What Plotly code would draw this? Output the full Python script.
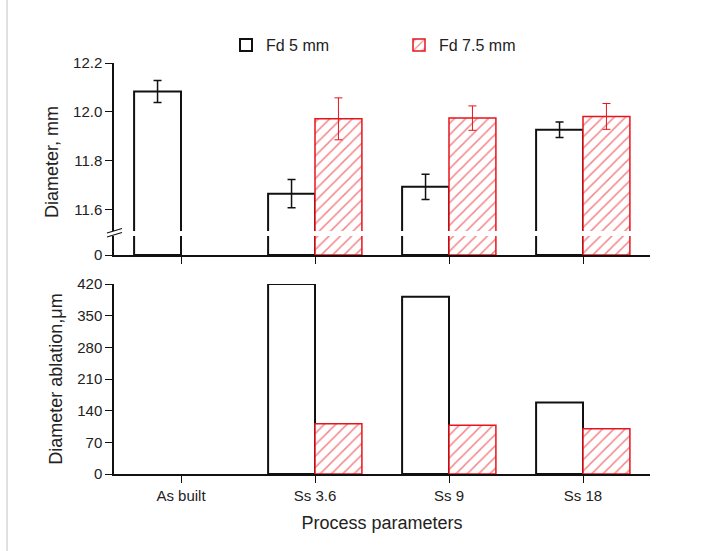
import plotly.graph_objects as go

categories = ["As built", "Ss 3.6", "Ss 9", "Ss 18"]
diam_fd5 = [12.083, 11.664, 11.692, 11.926]
diam_fd5_err = [0.045, 0.058, 0.052, 0.032]
diam_fd75 = [None, 11.971, 11.974, 11.981]
diam_fd75_err = [None, 0.086, 0.050, 0.053]
abl_fd5 = [None, 420, 392, 158]
abl_fd75 = [None, 111, 108, 100]
diam_ticks = [11.6, 11.8, 12.0, 12.2]
abl_ticks = [0, 70, 140, 210, 280, 350, 420]

FONT = "Liberation Sans, Arial, sans-serif"
BLACK = "#111111"
RED = "#e8141b"

W, H = 713, 551
L, R, T, B = 114, 63, 63, 77
ph = H - T - B


def py(p):
    return (H - B - p) / ph


def px(p):
    return (p - L) / (W - L - R)


fd5_style = dict(marker=dict(color="white", line=dict(color=BLACK, width=2)))
fd75_style = dict(marker=dict(color="white", line=dict(color=RED, width=1.5),
                              pattern=dict(shape="/", fgcolor=RED, bgcolor="white",
                                           size=8, solidity=0.19)))

fig = go.Figure()
# upper segment of top panel
fig.add_trace(go.Bar(x=categories, y=diam_fd5, name="Fd 5 mm", xaxis="x2", yaxis="y2",
                     error_y=dict(type="data", array=diam_fd5_err, color=BLACK, thickness=1.5, width=4),
                     legendgroup="a", **fd5_style))
fig.add_trace(go.Bar(x=categories, y=diam_fd75, name="Fd 7.5 mm", xaxis="x2", yaxis="y2",
                     error_y=dict(type="data", array=diam_fd75_err, color=RED, thickness=1, width=4),
                     legendgroup="b", **fd75_style))
# lower (broken) segment of top panel
fig.add_trace(go.Bar(x=categories, y=diam_fd5, name="Fd 5 mm", xaxis="x", yaxis="y",
                     showlegend=False, legendgroup="a", **fd5_style))
fig.add_trace(go.Bar(x=categories, y=diam_fd75, name="Fd 7.5 mm", xaxis="x", yaxis="y",
                     showlegend=False, legendgroup="b", **fd75_style))
# bottom panel
fig.add_trace(go.Bar(x=categories, y=abl_fd5, name="Fd 5 mm", xaxis="x3", yaxis="y3",
                     showlegend=False, legendgroup="a", **fd5_style))
fig.add_trace(go.Bar(x=categories, y=abl_fd75, name="Fd 7.5 mm", xaxis="x3", yaxis="y3",
                     showlegend=False, legendgroup="b", **fd75_style))

axis_common = dict(showline=True, linecolor=BLACK, linewidth=1.5, ticks="outside",
                   ticklen=7, tickwidth=1.3, tickcolor=BLACK, showgrid=False, zeroline=False,
                   tickfont=dict(family=FONT, size=15, color="#222"))

fig.update_layout(
    width=W, height=H,
    margin=dict(l=L, r=R, t=T, b=B),
    plot_bgcolor="white", paper_bgcolor="white",
    barmode="group", bargap=0.3, bargroupgap=0,
    font=dict(family=FONT, color="#222"),
    xaxis=dict(domain=[0, 1], anchor="y", range=[-0.5, 3.5], showticklabels=False, **axis_common),
    xaxis2=dict(domain=[0, 1], anchor="y2", range=[-0.5, 3.5], matches="x", visible=False),
    xaxis3=dict(domain=[0, 1], anchor="y3", range=[-0.5, 3.5],
                title=dict(text="Process parameters", font=dict(family=FONT, size=18, color="#222"), standoff=14),
                **axis_common),
    yaxis=dict(domain=[py(255), py(236)], anchor="x", range=[0, 1], tickvals=[0], **axis_common),
    yaxis2=dict(domain=[py(231), 1], anchor="x2", range=[11.511, 12.2], tickvals=diam_ticks,
                ticktext=[f"{v:.1f}" for v in diam_ticks], **axis_common),
    yaxis3=dict(domain=[0, py(284)], anchor="x3", range=[0, 420], tickvals=abl_ticks,
                title=dict(text="Diameter ablation,\u03bcm", font=dict(family=FONT, size=18, color="#222"), standoff=10),
                **axis_common),
    legend=dict(orientation="h", x=px(226), xanchor="left",
                y=py(45), yanchor="middle", entrywidth=128, entrywidthmode="pixels",
                font=dict(family=FONT, size=16, color="#222"), bgcolor="rgba(0,0,0,0)",
                traceorder="normal"),
    showlegend=True,
)

fig.add_annotation(text="Diameter, mm", xref="paper", yref="paper",
                   x=px(52), y=py(162), textangle=-90, showarrow=False,
                   font=dict(family=FONT, size=18, color="#222"), xanchor="center", yanchor="middle")

# break marks on the left axis
for dy in (0, 4):
    fig.add_shape(type="line", xref="paper", yref="paper",
                  x0=px(107), x1=px(122),
                  y0=py(237 - dy), y1=py(232.5 - dy), line=dict(color=BLACK, width=1.2))
# light page border on the left
fig.add_shape(type="line", xref="paper", yref="paper",
              x0=px(7), x1=px(7), y0=py(0), y1=py(551),
              line=dict(color="#d6d6d6", width=1.5))

fig.write_html("out.html")
